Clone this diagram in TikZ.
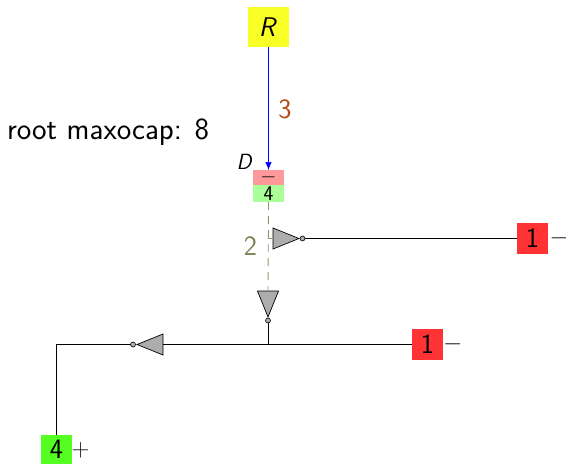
\documentclass[tikz,border=0pt]{standalone}
\usepackage{fontspec}
\usetikzlibrary{shapes.geometric,arrows.meta}
\definecolor{rootyellow}{RGB}{248,255,38}
\definecolor{nodered}{RGB}{255,51,51}
\definecolor{nodegreen}{RGB}{85,255,34}
\definecolor{softred}{RGB}{255,153,153}
\definecolor{softgreen}{RGB}{170,255,153}
\definecolor{capbrown}{RGB}{178,76,20}
\definecolor{capolive}{RGB}{128,128,85}
\definecolor{dashol}{RGB}{150,150,100}
\tikzset{
  every node/.style={font=\sffamily\fontsize{28}{32}\selectfont, inner sep=0pt, outer sep=0pt, text=black},
  wire/.style={line width=0.9pt, black},
  box/.style={minimum width=31pt, minimum height=31pt},
  inv/.style={isosceles triangle, isosceles triangle stretches, draw=black, fill=black!32, line width=0.7pt,
     minimum height=26pt, minimum width=21pt, anchor=apex},
  bubble/.style={circle, draw=black, fill=black!32, line width=0.6pt, minimum size=5pt},
  sign/.style={anchor=west, text=black!90}
}
\begin{document}
\begin{tikzpicture}[x=1pt,y=-1pt]
\useasboundingbox (0,0) rectangle (566,464);
\node[box, fill=rootyellow, minimum width=41pt, minimum height=40pt] (R) at (268.5,27) {\hspace*{-3pt}\itshape\fontsize{27}{30}\selectfont R};
\node[fill=softred, minimum width=31pt, minimum height=15pt] (Dm) at (268.5,177.5) {};
\node[fill=softgreen, minimum width=31pt, minimum height=17pt] (D4) at (268.5,193.5) {\fontsize{21}{24}\selectfont 4};
\node at (268.5,177) (minus) {\fontsize{21}{24}\selectfont$-$};
\node (Dl) at (244,162) {\itshape\fontsize{22}{26}\selectfont D};
\node[anchor=west] (root) at (7,132) {\fontsize{30.8}{34}\selectfont root maxocap: 8};
\node (three) at (285,109) {\fontsize{28}{32}\selectfont\color{capbrown}3};
\node (two) at (250.5,246) {\fontsize{28}{32}\selectfont\color{capolive}2};

\node[inv, shape border rotate=0] (i1) at (299,238.5) {};
\node[bubble] (b1) at (302.5,238.5) {};
\node[inv, shape border rotate=-90] (i2) at (268,317) {};
\node[bubble] (b2) at (268,320.5) {};
\node[inv, shape border rotate=180] (i3) at (137,344.5) {};
\node[bubble] (b3) at (133,344.5) {};

\node[box, fill=nodered] (r1) at (532.5,238.5) {1};
\node[sign] (s1) at (549.5,238.5) {$-$};
\node[box, fill=nodered] (r2) at (427.5,344.5) {1};
\node[sign] (s2) at (443,344.5) {$-$};
\node[box, fill=nodegreen, minimum height=29pt] (g) at (56.5,449.5) {4};
\node[sign] (s3) at (71.5,450) {$+$};
\coordinate (j) at (268,344.5);
\coordinate (t) at (268,238.5);

\draw[blue, line width=0.7pt, -{Latex[length=8pt,width=6.5pt]}] (R.south) -- (Dm.north);
\draw[dashol, line width=0.9pt, dash pattern=on 8pt off 6pt] (D4.south) -- (i2.lower side);
\draw[dashol, line width=0.7pt] (t) -- (i1.lower side);
\draw[wire] (b1.east) -- (r1.west);
\draw[wire] (b2.south) -- (j);
\draw[wire] (i3.lower side) -- (r2.west);
\draw[wire] (b3.west) -| (g.north);
\end{tikzpicture}
\end{document}
